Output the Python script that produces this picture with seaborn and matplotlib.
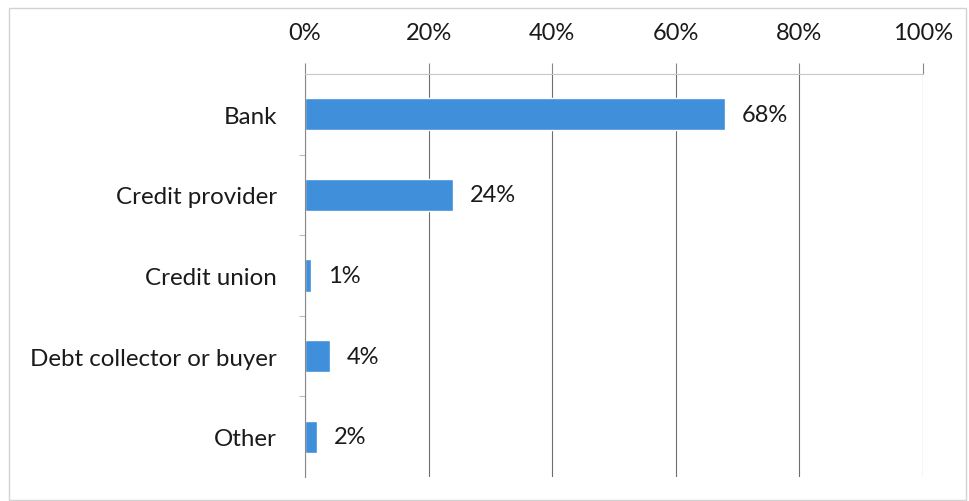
import matplotlib
matplotlib.use("Agg")
import matplotlib.pyplot as plt
import matplotlib.patches as mpatches
from matplotlib.ticker import FixedLocator, PercentFormatter
import pandas as pd
import seaborn as sns

# Share of responses by type of creditor
categories = ["Bank", "Credit provider", "Credit union", "Debt collector or buyer", "Other"]
shares = [68, 24, 1, 4, 2]
x_ticks = [0, 20, 40, 60, 80, 100]

sns.set_theme(style="white")
plt.rcParams["font.family"] = ["Lato", "DejaVu Sans"]

df = pd.DataFrame({"creditor": categories, "share": shares})

fig = plt.figure(figsize=(9.69, 5.02), dpi=100)
ax = fig.add_axes([305 / 969, 1 - 478 / 502, 618 / 969, (478 - 75) / 502])

# thin frame around the whole chart area
fig.patches.append(mpatches.Rectangle((9 / 969, 1 - 501 / 502), 957 / 969, 492 / 502,
                                      transform=fig.transFigure, fill=False,
                                      edgecolor="#d2d2d2", linewidth=1.0))

bar_color = "#3f8fda"
sns.barplot(data=df, x="share", y="creditor", orient="h", color=bar_color,
            width=0.4, saturation=1, ax=ax)

ax.set_xlim(0, 100)
ax.set_ylim(4.5, -0.5)
ax.set_xlabel("")
ax.set_ylabel("")

ax.xaxis.tick_top()
ax.set_xticks(x_ticks)
ax.xaxis.set_major_formatter(PercentFormatter(decimals=0))
ax.tick_params(axis="x", which="major", direction="out", length=8, width=0.8,
               color="#888888", pad=14, labelsize=17, labelcolor="#1a1a1a")
ax.tick_params(axis="y", which="major", length=0, pad=20, labelsize=17.4,
               labelcolor="#1a1a1a")
ax.yaxis.set_minor_locator(FixedLocator([0.5, 1.5, 2.5, 3.5]))
ax.tick_params(axis="y", which="minor", direction="out", length=4, width=0.8,
               color="#bbbbbb", left=True)

ax.grid(axis="x", color="#6e6e6e", linewidth=0.8)
ax.set_axisbelow(True)

for side in ["right", "bottom"]:
    ax.spines[side].set_visible(False)
ax.spines["top"].set_color("#c8c8c8")
ax.spines["top"].set_linewidth(0.8)
ax.spines["left"].set_color("#888888")
ax.spines["left"].set_linewidth(0.8)

ax.bar_label(ax.containers[0], labels=[f"{v}%" for v in shares], padding=12,
             fontsize=17, color="#1a1a1a")

fig.savefig("out.png", dpi=100, facecolor="white")
